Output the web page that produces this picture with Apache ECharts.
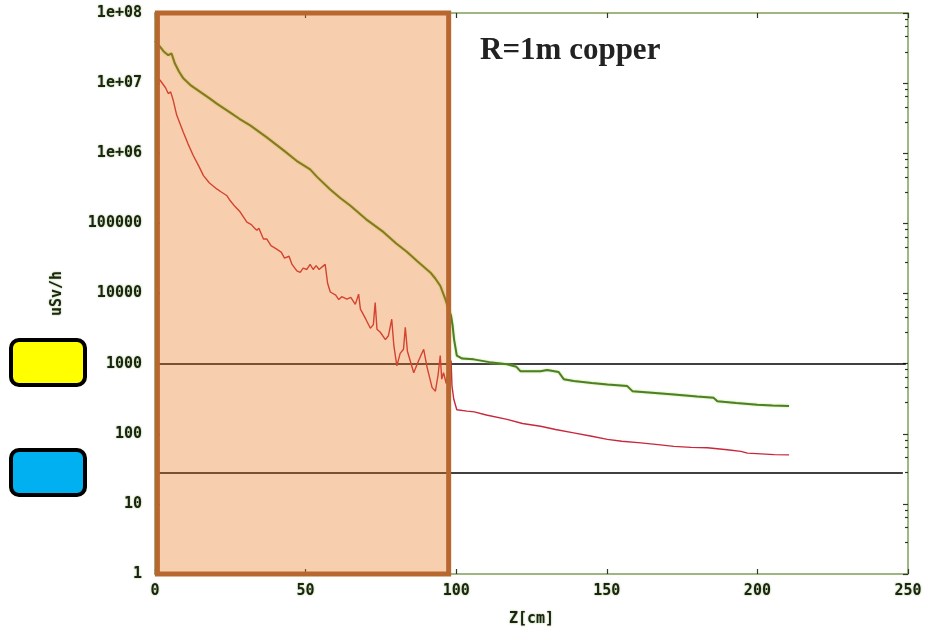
<!DOCTYPE html>
<html>
<head>
<meta charset="utf-8">
<script src="https://cdn.jsdelivr.net/npm/echarts@6/dist/echarts.min.js"></script>
<style>
html,body{margin:0;padding:0;background:#fff;}
#chart{width:928px;height:632px;}
</style>
</head>
<body>
<div id="chart"></div>
<script>
// ---- data ----
const zGreen = [0,0.8,1.7,3,4.4,5.5,6.6,8,9.4,12,15,18,20.5,25,28,31.6,37,42.7,47,51.5,53.8,58,61.5,64.8,70,75.9,80,83.7,87,91.4,93,94.7,96.4,97.2,98.3,98.8,99.3,100.2,102,105.8,111,116.9,120,121.3,128,130.2,134,135.7,139,145,150.2,156.8,158.5,165,172.3,180,185.5,186.7,193,200,205,210.5];
const vGreen = [4.0e7,3.6e7,3.3e7,2.8e7,2.5e7,2.65e7,1.9e7,1.45e7,1.17e7,9.2e6,7.5e6,6.1e6,5.1e6,3.8e6,3.1e6,2.5e6,1.7e6,1.1e6,7.8e5,5.9e5,4.6e5,3.1e5,2.3e5,1.8e5,1.15e5,7.5e4,5.2e4,3.9e4,2.9e4,2.0e4,1.65e4,1.29e4,8.3e3,6.5e3,4.8e3,3.5e3,2.2e3,1.3e3,1.18e3,1.15e3,1.05e3,980,900,780,780,810,760,600,565,530,505,478,405,385,364,340,325,290,275,260,252,248];
const zRed = [0,1.7,3.5,4.4,5.2,6,7.2,9.4,11,12.7,14.5,16.1,18,20.5,22,23.8,25,26.5,28.3,30.5,32,33,33.8,34.5,36,37.1,38.5,40,41.9,43,44.5,45.5,47.1,48.2,49.2,50.4,51.5,52.5,53.5,54.5,55.5,56,56.5,57.3,58.2,60,61,62,63.7,65,66.5,67.6,68.2,70,71.5,72.5,73.1,73.7,74.8,76.5,77.5,78.6,79.3,80.3,81.4,82.5,83.1,83.8,85.9,87.5,89.2,90.3,92,93.1,94,94.7,95.2,95.8,96.7,97.5,98.3,98.6,99.2,100.2,103.6,106,110,116.9,122,128,133,139,145,150.2,155,161.3,167,172.3,178,183.4,190,194.5,196.7,205.6,210.5];
const vRed = [1.2e7,1.1e7,8.6e6,7.1e6,7.5e6,5.8e6,3.5e6,2.0e6,1.35e6,9.3e5,6.6e5,4.8e5,3.8e5,3.1e5,2.8e5,2.5e5,2.1e5,1.75e5,1.45e5,1.04e5,9.6e4,8.6e4,8.0e4,8.5e4,6.0e4,6.0e4,4.8e4,4.4e4,3.9e4,3.2e4,3.4e4,2.6e4,2.1e4,2.0e4,2.3e4,2.2e4,2.6e4,2.2e4,2.5e4,2.2e4,2.4e4,2.3e4,2.6e4,1.4e4,1.05e4,9.5e3,8.2e3,9.0e3,8.3e3,8.8e3,7.0e3,9.8e3,6.0e3,4.3e3,3.2e3,3.6e3,7.4e3,3.1e3,2.8e3,2.2e3,2.5e3,4.3e3,1.8e3,930,1.4e3,1.6e3,3.3e3,1.5e3,740,1.1e3,1.6e3,900,455,405,700,1.3e3,600,740,520,1.0e3,1.1e3,480,310,220,210,205,185,160,140,128,115,103,92,83,78,74,70,66,64,63,59,56,53,50.4,50];
const yTickValues = [1,10,100,1000,10000,100000,1000000,10000000,100000000];
const yTickLabels = ['1','10','100','1000','10000','100000','1e+06','1e+07','1e+08'];
const xTickLabels = ['0','50','100','150','200','250'];
const limitLevels = [1000, 28];
const shadedRange = [0.8, 97.5];
const titleText = 'R=1m copper';

const chart = echarts.init(document.getElementById('chart'));
const labelFont = {fontFamily:'"DejaVu Sans Mono"', fontWeight:'bold', fontSize:15, color:'#1a2410',
  textShadowColor:'rgba(110,160,60,0.7)', textShadowBlur:2};
const axisLineStyle = {color:'#7fa05a', width:1.5};
const tickStyle = {color:'#2a3a20', width:1.2};

function yFmt(v){
  const e = Math.round(Math.log10(v));
  const i = yTickValues.indexOf(Math.pow(10,e));
  return i >= 0 ? yTickLabels[i] : '';
}

chart.setOption({
  animation:false,
  backgroundColor:'#ffffff',
  grid:{left:155, right:20, top:13, bottom:58},
  xAxis:[{
    type:'value', min:0, max:250, interval:50,
    axisLine:{show:true, onZero:false, lineStyle:axisLineStyle},
    axisTick:{show:true, inside:true, length:5, lineStyle:tickStyle},
    axisLabel:Object.assign({margin:10, formatter:(v)=>xTickLabels[Math.round(v/50)]}, labelFont),
    splitLine:{show:false},
    name:'Z[cm]', nameLocation:'middle', nameGap:38,
    nameTextStyle:labelFont
  },{
    type:'value', min:0, max:250, interval:50, position:'top',
    axisLine:{show:true, onZero:false, lineStyle:axisLineStyle},
    axisTick:{show:true, inside:true, length:5, lineStyle:tickStyle},
    axisLabel:{show:false}, splitLine:{show:false}
  }],
  yAxis:[{
    type:'log', logBase:10, min:1, max:1e8,
    axisLine:{show:true, onZero:false, lineStyle:axisLineStyle},
    axisTick:{show:true, inside:true, length:5, lineStyle:tickStyle},
    minorTick:{show:true, splitNumber:5, length:3, lineStyle:tickStyle},
    axisLabel:Object.assign({margin:13, formatter:yFmt}, labelFont),
    splitLine:{show:false}, minorSplitLine:{show:false},
    name:'uSv/h', nameLocation:'middle', nameGap:90, nameRotate:90,
    nameTextStyle:labelFont
  },{
    type:'log', logBase:10, min:1, max:1e8, position:'right',
    axisLine:{show:true, onZero:false, lineStyle:axisLineStyle},
    axisTick:{show:true, inside:true, length:5, lineStyle:tickStyle},
    minorTick:{show:true, splitNumber:5, length:3, lineStyle:tickStyle},
    axisLabel:{show:false}, splitLine:{show:false}
  }],
  series:[
    {
      type:'line', name:'limits', data:[], z:1, silent:true,
      markLine:{
        silent:true, z:1, symbol:['none','none'], label:{show:false},
        lineStyle:{color:'#000', width:1.6, type:'solid'},
        data:[
          [{coord:[0,limitLevels[0]]},{coord:[249.3,limitLevels[0]]}],
          [{coord:[0,limitLevels[1]]},{coord:[248.3,limitLevels[1]]}]
        ]
      }
    },
    {
      type:'line', name:'total', showSymbol:false, z:2,
      data: zGreen.map((z,i)=>[z,vGreen[i]]),
      lineStyle:{color:'#4e7f26', width:2, shadowColor:'rgba(170,220,100,0.9)', shadowBlur:2},
      itemStyle:{color:'#4e7f26'}
    },
    {
      type:'line', name:'neutron', showSymbol:false, z:2,
      data: zRed.map((z,i)=>[z,vRed[i]]),
      lineStyle:{color:'#c8283c', width:1.4},
      itemStyle:{color:'#c8283c'}
    },
    {
      type:'line', name:'shield', data:[], z:10, clip:false, silent:true,
      markArea:{
        silent:true, z:10,
        itemStyle:{color:'rgba(235,118,24,0.35)', borderColor:'#b8682e', borderWidth:5},
        data:[[{coord:[shadedRange[0],1e8]},{coord:[shadedRange[1],1]}]]
      }
    }
  ],
  graphic:[
    {type:'rect', shape:{x:11,y:340,width:74,height:45,r:8}, style:{fill:'#ffff00', stroke:'#000', lineWidth:4}},
    {type:'rect', shape:{x:11,y:450,width:74,height:45,r:8}, style:{fill:'#00b0f0', stroke:'#000', lineWidth:4}},
    {type:'text', left:480, top:35, style:{text:titleText, font:'bold 31px "Liberation Serif"', fill:'#222'}}
  ]
});
</script>
</body>
</html>
